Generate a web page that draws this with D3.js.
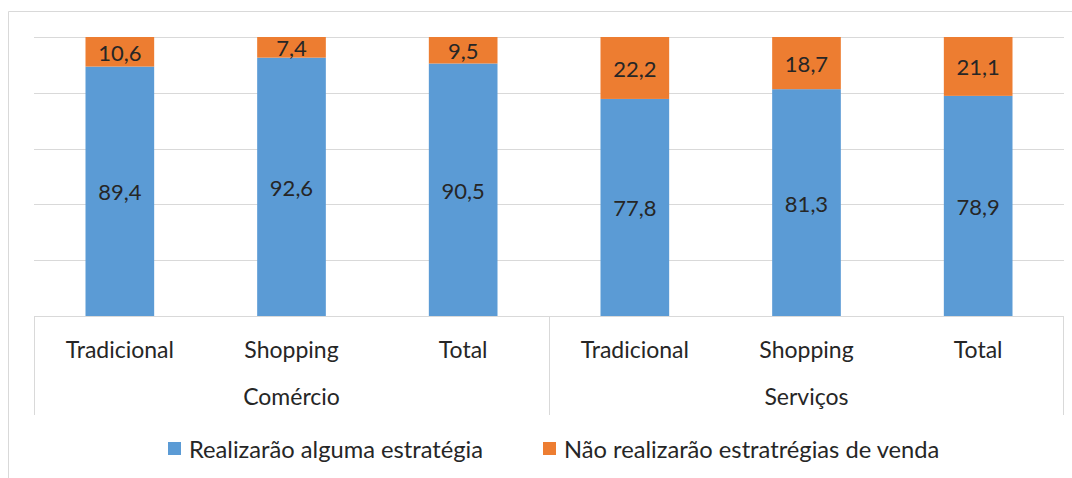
<!DOCTYPE html>
<html>
<head>
<meta charset="utf-8">
<script src="https://cdn.jsdelivr.net/npm/d3@7"></script>
<style>
  body { margin: 0; background: #fff; }
  text { font-family: Lato, "Open Sans", sans-serif; fill: #262626; }
</style>
</head>
<body>
<div id="chart-area"></div>
<script>
// Data
var categories = ["Tradicional", "Shopping", "Total", "Tradicional", "Shopping", "Total"];
var groups = ["Comércio", "Serviços"];
var realizarao = [89.4, 92.6, 90.5, 77.8, 81.3, 78.9];
var naoRealizarao = [10.6, 7.4, 9.5, 22.2, 18.7, 21.1];
var seriesNames = ["Realizarão alguma estratégia", "Não realizarão estratrégias de venda"];
var colors = ["#5B9BD5", "#ED7D31"];

var W = 1072, H = 478;
var margin = {top: 37, right: 8, bottom: 162, left: 34};
var width = 1064 - margin.left,
    height = 316 - margin.top;

var root = d3.select("#chart-area").append("svg")
    .attr("width", W)
    .attr("height", H);

// chart frame
root.append("path")
    .attr("d", "M8.5," + H + "V11.5H" + W)
    .attr("fill", "none")
    .attr("stroke", "#d9d9d9");

var svg = root.append("g")
    .attr("transform", "translate(" + margin.left + "," + margin.top + ")");

//SCALES
var x = d3.scaleBand()
    .domain(d3.range(categories.length))
    .range([0, width])
    .paddingInner(0.6)
    .paddingOuter(0.3);

var y = d3.scaleLinear()
    .domain([0, 100])
    .range([height, 0]);

// grid
svg.selectAll(".grid")
    .data(y.ticks(5).filter(function(d){ return d > 0; }))
    .enter().append("line")
    .attr("x1", 0)
    .attr("x2", width)
    .attr("y1", function(d){ return Math.round(y(d)) + 0.5; })
    .attr("y2", function(d){ return Math.round(y(d)) + 0.5; })
    .attr("stroke", "#d9d9d9");

// stacked bars
var stackData = categories.map(function(c, i){
    return {i: i, a: realizarao[i], b: naoRealizarao[i]};
});
var stack = d3.stack().keys(["a", "b"])(stackData);

var layers = svg.selectAll(".layer")
    .data(stack)
    .enter().append("g")
    .attr("fill", function(d, k){ return colors[k]; });

layers.selectAll("rect")
    .data(function(d){ return d; })
    .enter().append("rect")
    .attr("x", function(d){ return x(d.data.i); })
    .attr("width", x.bandwidth())
    .attr("y", function(d){ return y(d[1]); })
    .attr("height", function(d){ return y(d[0]) - y(d[1]); });

layers.selectAll("text")
    .data(function(d){ return d; })
    .enter().append("text")
    .attr("x", function(d){ return x(d.data.i) + x.bandwidth() / 2; })
    .attr("y", function(d){ return (y(d[0]) + y(d[1])) / 2 + 1; })
    .attr("dy", "0.36em")
    .attr("text-anchor", "middle")
    .style("font-size", "22px")
    .text(function(d){ return d3.format(".1f")(d[1] - d[0]).replace(".", ","); });

// x axis line and group dividers
svg.append("line")
    .attr("x1", 0).attr("x2", width)
    .attr("y1", height + 0.5).attr("y2", height + 0.5)
    .attr("stroke", "#d9d9d9");

var dividers = [0, 3, 6];
svg.selectAll(".divider")
    .data(dividers)
    .enter().append("line")
    .attr("x1", function(d){ return d === 6 ? width - 0.5 : Math.round(d * width / 6) + 0.5; })
    .attr("x2", function(d){ return d === 6 ? width - 0.5 : Math.round(d * width / 6) + 0.5; })
    .attr("y1", height)
    .attr("y2", height + 99)
    .attr("stroke", "#d9d9d9");

svg.selectAll(".cat")
    .data(categories)
    .enter().append("text")
    .attr("x", function(d, i){ return x(i) + x.bandwidth() / 2; })
    .attr("y", height + 34)
    .attr("dy", "0.36em")
    .attr("text-anchor", "middle")
    .style("font-size", "23px")
    .text(function(d){ return d; });

svg.selectAll(".group")
    .data(groups)
    .enter().append("text")
    .attr("x", function(d, i){ return width / 4 + i * width / 2; })
    .attr("y", height + 81)
    .attr("dy", "0.36em")
    .attr("text-anchor", "middle")
    .style("font-size", "23px")
    .text(function(d){ return d; });

// legend
var legendX = [168, 543];
var legend = root.selectAll(".legend")
    .data(seriesNames)
    .enter().append("g")
    .attr("transform", function(d, i){ return "translate(" + legendX[i] + ",449)"; });

legend.append("rect")
    .attr("x", 0).attr("y", -7)
    .attr("width", 13).attr("height", 13)
    .attr("fill", function(d, i){ return colors[i]; });

legend.append("text")
    .attr("x", 21)
    .attr("dy", "0.36em")
    .style("font-size", "23.7px")
    .text(function(d){ return d; });
</script>
</body>
</html>
